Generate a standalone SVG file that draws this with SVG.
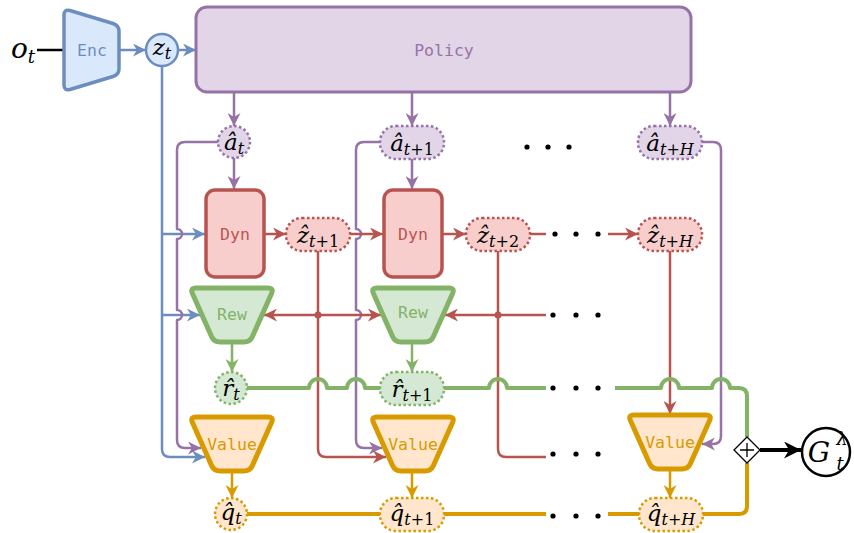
<svg xmlns="http://www.w3.org/2000/svg" width="854" height="533" viewBox="0 0 854 533">
<style>
.c{fill:none;stroke-width:2.5;stroke-linejoin:round}
.thick{stroke-width:4}
.bl{stroke:#6c8ebf}.pu{stroke:#9673a6}.re{stroke:#b85450}.gr{stroke:#82b366}.or{stroke:#d79b00}.bk{stroke:#000}
.lbl{font-family:"DejaVu Sans Mono",monospace;font-size:16.5px;text-anchor:middle;dominant-baseline:central}
.m{font-family:"DejaVu Serif",serif;font-size:23px;font-style:italic;text-anchor:middle;fill:#000}
.s{font-size:16px}
.n{font-style:normal}
.pillP{fill:#e1d5e7;stroke:#9673a6;stroke-width:2.5;stroke-dasharray:2.5 2.5}
.pillR{fill:#f8cecc;stroke:#b85450;stroke-width:2.5;stroke-dasharray:2.5 2.5}
.pillG{fill:#d5e8d4;stroke:#82b366;stroke-width:2.5;stroke-dasharray:2.5 2.5}
.pillO{fill:#ffe6cc;stroke:#d79b00;stroke-width:2.5;stroke-dasharray:2.5 2.5}
.trG{fill:#d5e8d4;stroke:#82b366;stroke-width:5}
.trO{fill:#ffe6cc;stroke:#d79b00;stroke-width:5}
.dyn{fill:#f8cecc;stroke:#b85450;stroke-width:3.5}
.dot{fill:#000}
</style>
<defs>
<path id="trap" d="M-36,-27 H36 Q42,-27 39.56,-21.52 L20.44,21.52 Q18,27 12,27 H-12 Q-18,27 -20.44,21.52 L-39.56,-21.52 Q-42,-27 -36,-27 Z"/>
<marker id="aB" viewBox="0 0 10 10" refX="10" refY="5" markerWidth="13" markerHeight="13" markerUnits="userSpaceOnUse" orient="auto"><path d="M0,0 L10,5 L0,10 L3,5 Z" fill="#6c8ebf"/></marker>
<marker id="aP" viewBox="0 0 10 10" refX="10" refY="5" markerWidth="13" markerHeight="13" markerUnits="userSpaceOnUse" orient="auto"><path d="M0,0 L10,5 L0,10 L3,5 Z" fill="#9673a6"/></marker>
<marker id="aR" viewBox="0 0 10 10" refX="10" refY="5" markerWidth="13" markerHeight="13" markerUnits="userSpaceOnUse" orient="auto"><path d="M0,0 L10,5 L0,10 L3,5 Z" fill="#b85450"/></marker>
<marker id="aG" viewBox="0 0 10 10" refX="10" refY="5" markerWidth="13" markerHeight="13" markerUnits="userSpaceOnUse" orient="auto"><path d="M0,0 L10,5 L0,10 L3,5 Z" fill="#82b366"/></marker>
<marker id="aO" viewBox="0 0 10 10" refX="10" refY="5" markerWidth="13" markerHeight="13" markerUnits="userSpaceOnUse" orient="auto"><path d="M0,0 L10,5 L0,10 L3,5 Z" fill="#d79b00"/></marker>
<marker id="aK" viewBox="0 0 10 10" refX="10" refY="5" markerWidth="17" markerHeight="17" markerUnits="userSpaceOnUse" orient="auto"><path d="M0,0 L10,5 L0,10 L3,5 Z" fill="#000"/></marker>
</defs>
<rect width="854" height="533" fill="#fff"/>

<g id="connectors">
<path class="c bk" d="M37,50 H64"/>
<path class="c bl" d="M120,50 H146" marker-end="url(#aB)"/>
<path class="c bl" d="M178,50 H196" marker-end="url(#aB)"/>
<path class="c bl" d="M162,66 V449 Q162,457 170,457 H205" marker-end="url(#aB)"/>
<path class="c bl" d="M162,234 H205" marker-end="url(#aB)"/>
<path class="c bl" d="M162,315 H200" marker-end="url(#aB)"/>
<path class="c pu" d="M234,92 V126" marker-end="url(#aP)"/>
<path class="c pu" d="M412,92 V126" marker-end="url(#aP)"/>
<path class="c pu" d="M670,92 V126" marker-end="url(#aP)"/>
<path class="c pu" d="M234,158 V189" marker-end="url(#aP)"/>
<path class="c pu" d="M412,158 V189" marker-end="url(#aP)"/>
<path class="c pu" d="M218,142 H185 Q177,142 177,150 V229 A5,5 0 0 1 177,239 V310 A5,5 0 0 1 177,320 V440 Q177,448 185,448 H201" marker-end="url(#aP)"/>
<path class="c pu" d="M380,142 H364 Q356,142 356,150 V229 A5,5 0 0 1 356,239 V310 A5,5 0 0 1 356,320 V440 Q356,448 364,448 H382" marker-end="url(#aP)"/>
<path class="c pu" d="M702,142 H713 Q721,142 721,150 V436 Q721,444 713,444 H702" marker-end="url(#aP)"/>
<path class="c re" d="M264,234 H286" marker-end="url(#aR)"/>
<path class="c re" d="M350,234 H383" marker-end="url(#aR)"/>
<path class="c re" d="M442,234 H466" marker-end="url(#aR)"/>
<path class="c re" d="M530,234 H546"/>
<path class="c re" d="M608,234 H638" marker-end="url(#aR)"/>
<path class="c re" d="M318,250 V449 Q318,457 326,457 H386" marker-end="url(#aR)"/>
<path class="c re" d="M318,315 H264" marker-end="url(#aR)"/>
<path class="c re" d="M318,315 H381" marker-end="url(#aR)"/>
<circle cx="318" cy="315" r="3.5" fill="#b85450"/>
<path class="c re" d="M498,250 V449 Q498,457 506,457 H546"/>
<path class="c re" d="M546,315 H445" marker-end="url(#aR)"/>
<circle cx="498" cy="315" r="3.5" fill="#b85450"/>
<path class="c re" d="M670,250 V414" marker-end="url(#aR)"/>
<path class="c gr" d="M232,342 V372" marker-end="url(#aG)"/>
<path class="c gr" d="M412,342 V372" marker-end="url(#aG)"/>
<path class="c gr thick" d="M247,388 H309 A9,9 0 0 1 327,388 H347 A9,9 0 0 1 365,388 H380"/>
<path class="c gr thick" d="M444,388 H489 A9,9 0 0 1 507,388 H546"/>
<path class="c gr thick" d="M615,388 H661 A9,9 0 0 1 679,388 H712 A9,9 0 0 1 730,388 H739 Q747,388 747,396 V437"/>
<path class="c or" d="M232,471 V498" marker-end="url(#aO)"/>
<path class="c or" d="M412,471 V498" marker-end="url(#aO)"/>
<path class="c or" d="M670,469 V498" marker-end="url(#aO)"/>
<path class="c or thick" d="M247,514 H380"/>
<path class="c or thick" d="M444,514 H546"/>
<path class="c or thick" d="M608,514 H639"/>
<path class="c or thick" d="M703,514 H739 Q747,514 747,506 V463"/>
<path class="c bk thick" d="M760,450 H801" marker-end="url(#aK)"/>
<g id="ellipses">
<circle class="dot" cx="527" cy="147" r="2.6"/><circle class="dot" cx="548" cy="147" r="2.6"/><circle class="dot" cx="569" cy="147" r="2.6"/>
<circle class="dot" cx="555" cy="234" r="2.6"/><circle class="dot" cx="576" cy="234" r="2.6"/><circle class="dot" cx="598" cy="234" r="2.6"/>
<circle class="dot" cx="553" cy="315" r="2.6"/><circle class="dot" cx="576" cy="315" r="2.6"/><circle class="dot" cx="598" cy="315" r="2.6"/>
<circle class="dot" cx="553" cy="388" r="2.6"/><circle class="dot" cx="576" cy="388" r="2.6"/><circle class="dot" cx="598" cy="388" r="2.6"/>
<circle class="dot" cx="553" cy="454" r="2.6"/><circle class="dot" cx="576" cy="454" r="2.6"/><circle class="dot" cx="598" cy="454" r="2.6"/>
<circle class="dot" cx="553" cy="516" r="2.6"/><circle class="dot" cx="576" cy="516" r="2.6"/><circle class="dot" cx="598" cy="516" r="2.6"/>
</g>
</g>

<g id="ot"><text class="m" x="23" y="58" style="font-size:28px">o<tspan class="s" dy="5" style="font-size:18px">t</tspan></text></g>
<g id="enc">
<path d="M70,10.5 L113,23.5 Q119,25.5 119,31 V69 Q119,74.5 113,76.5 L70,89.5 Q64,91 64,85 V15 Q64,9 70,10.5 Z" fill="#dae8fc" stroke="#6c8ebf" stroke-width="3.5"/>
<text class="lbl" x="92" y="50" fill="#6c8ebf">Enc</text>
</g>
<g id="zt">
<circle cx="162" cy="50" r="16" fill="#dae8fc" stroke="#6c8ebf" stroke-width="2.5"/>
<text class="m" x="162" y="55">z<tspan class="s" dy="4">t</tspan></text>
</g>
<g id="policy">
<rect x="196" y="7" width="495" height="85" rx="11" fill="#e1d5e7" stroke="#9673a6" stroke-width="3"/>
<text class="lbl" x="444" y="50" fill="#9673a6">Policy</text>
</g>

<g id="a_t"><circle class="pillP" cx="234" cy="142" r="16"/><text class="m" x="234" y="150">â<tspan class="s" dy="4">t</tspan></text></g>
<g id="a_t1"><rect class="pillP" x="380" y="126" width="64" height="33" rx="16"/><text class="m" x="412" y="151">â<tspan class="s" dy="4">t</tspan><tspan class="s n">+1</tspan></text></g>
<g id="a_tH"><rect class="pillP" x="638" y="126" width="64" height="33" rx="16"/><text class="m" x="670" y="151">â<tspan class="s" dy="4">t</tspan><tspan class="s n">+</tspan><tspan class="s">H</tspan></text></g>

<g id="dyn1"><rect class="dyn" x="206" y="190" width="58" height="87" rx="9"/><text class="lbl" x="235" y="234" fill="#b85450">Dyn</text></g>
<g id="dyn2"><rect class="dyn" x="384" y="190" width="58" height="87" rx="9"/><text class="lbl" x="413" y="234" fill="#b85450">Dyn</text></g>

<g id="z_t1"><rect class="pillR" x="286" y="218" width="64" height="33" rx="16"/><text class="m" x="318" y="243">ẑ<tspan class="s" dy="4">t</tspan><tspan class="s n">+1</tspan></text></g>
<g id="z_t2"><rect class="pillR" x="466" y="218" width="64" height="33" rx="16"/><text class="m" x="498" y="243">ẑ<tspan class="s" dy="4">t</tspan><tspan class="s n">+2</tspan></text></g>
<g id="z_tH"><rect class="pillR" x="638" y="218" width="64" height="33" rx="16"/><text class="m" x="670" y="243">ẑ<tspan class="s" dy="4">t</tspan><tspan class="s n">+</tspan><tspan class="s">H</tspan></text></g>

<g id="rew1"><use href="#trap" class="trG" transform="translate(232,315)"/><text class="lbl" x="232" y="314" fill="#82b366">Rew</text></g>
<g id="rew2"><use href="#trap" class="trG" transform="translate(413,315)"/><text class="lbl" x="413" y="312" fill="#82b366">Rew</text></g>

<g id="r_t"><circle class="pillG" cx="231" cy="388" r="16"/><text class="m" x="231" y="396">r̂<tspan class="s" dy="4">t</tspan></text></g>
<g id="r_t1"><rect class="pillG" x="380" y="372" width="64" height="33" rx="16"/><text class="m" x="412" y="397">r̂<tspan class="s" dy="4">t</tspan><tspan class="s n">+1</tspan></text></g>

<g id="val1"><use href="#trap" class="trO" transform="translate(232,444)"/><text class="lbl" x="232" y="444" fill="#d79b00">Value</text></g>
<g id="val2"><use href="#trap" class="trO" transform="translate(413,444)"/><text class="lbl" x="413" y="444" fill="#d79b00">Value</text></g>
<g id="val3"><use href="#trap" class="trO" transform="translate(670,442)"/><text class="lbl" x="670" y="442" fill="#d79b00">Value</text></g>

<g id="q_t"><circle class="pillO" cx="231" cy="514" r="16"/><text class="m" x="231" y="520">q̂<tspan class="s" dy="4">t</tspan></text></g>
<g id="q_t1"><rect class="pillO" x="380" y="498" width="64" height="33" rx="16"/><text class="m" x="412" y="521">q̂<tspan class="s" dy="4">t</tspan><tspan class="s n">+1</tspan></text></g>
<g id="q_tH"><rect class="pillO" x="639" y="498" width="64" height="33" rx="16"/><text class="m" x="671" y="521">q̂<tspan class="s" dy="4">t</tspan><tspan class="s n">+</tspan><tspan class="s">H</tspan></text></g>

<g id="sum">
<polygon points="747,437 760,450 747,463 734,450" fill="#fff" stroke="#000" stroke-width="1.3"/>
<path d="M740,450 H754 M747,443 V457" stroke="#000" stroke-width="1.3" fill="none"/>
</g>
<g id="G">
<circle cx="826" cy="452" r="24" fill="#fff" stroke="#000" stroke-width="2.5"/>
<text class="m" x="819" y="462" style="font-size:28px">G</text>
<text class="m" x="842" y="445" style="font-size:18px">λ</text>
<text class="m" x="840" y="470" style="font-size:18px">t</text>
</g>
</svg>
